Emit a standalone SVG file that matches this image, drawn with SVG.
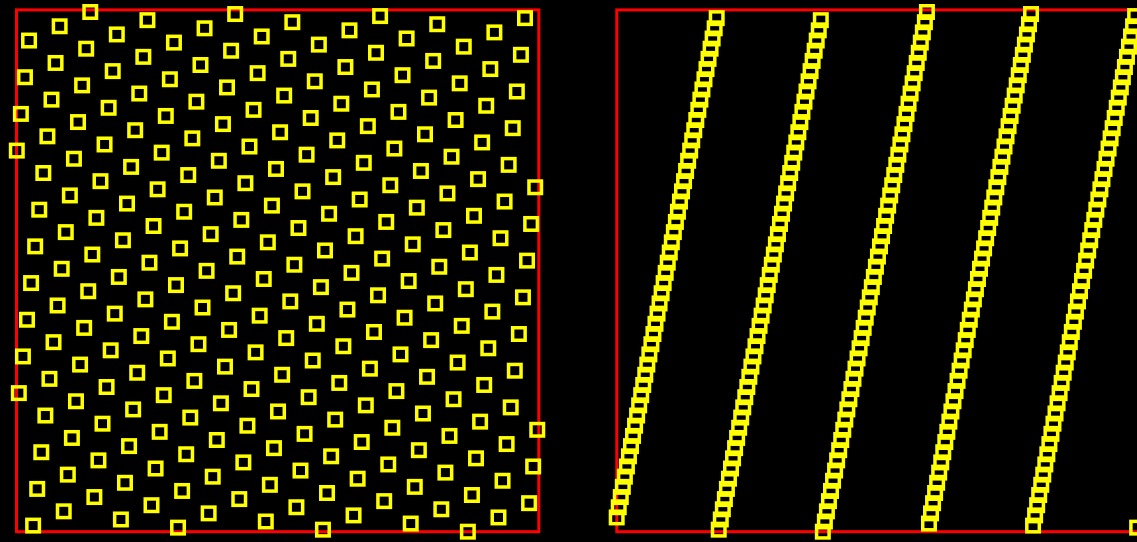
<svg xmlns="http://www.w3.org/2000/svg" width="1137" height="542" viewBox="0 0 1137 542">
<style>
.frame{fill:none;stroke:#ff0000;stroke-width:3}
</style>
<defs>
<rect id="q" x="-3.062" y="-3.066" width="6.124" height="6.133" fill="none" stroke="#ffff00" stroke-width="1.715"/>
</defs>
<rect x="0" y="0" width="1137" height="542" fill="#000000"/>
<g id="panel-left">
<rect class="frame" x="16.5" y="9.9" width="522.3" height="521.8"/>
<g id="points-left" transform="translate(16.8,531.7) scale(2.041,-2.038)">
<use href="#q" x="0" y="187"/><use href="#q" x="1" y="68"/><use href="#q" x="2" y="205"/><use href="#q" x="3" y="86"/><use href="#q" x="4" y="223"/><use href="#q" x="5" y="104"/><use href="#q" x="6" y="241"/><use href="#q" x="7" y="122"/><use href="#q" x="8" y="3"/><use href="#q" x="9" y="140"/>
<use href="#q" x="10" y="21"/><use href="#q" x="11" y="158"/><use href="#q" x="12" y="39"/><use href="#q" x="13" y="176"/><use href="#q" x="14" y="57"/><use href="#q" x="15" y="194"/><use href="#q" x="16" y="75"/><use href="#q" x="17" y="212"/><use href="#q" x="18" y="93"/><use href="#q" x="19" y="230"/>
<use href="#q" x="20" y="111"/><use href="#q" x="21" y="248"/><use href="#q" x="22" y="129"/><use href="#q" x="23" y="10"/><use href="#q" x="24" y="147"/><use href="#q" x="25" y="28"/><use href="#q" x="26" y="165"/><use href="#q" x="27" y="46"/><use href="#q" x="28" y="183"/><use href="#q" x="29" y="64"/>
<use href="#q" x="30" y="201"/><use href="#q" x="31" y="82"/><use href="#q" x="32" y="219"/><use href="#q" x="33" y="100"/><use href="#q" x="34" y="237"/><use href="#q" x="35" y="118"/><use href="#q" x="36" y="255"/><use href="#q" x="37" y="136"/><use href="#q" x="38" y="17"/><use href="#q" x="39" y="154"/>
<use href="#q" x="40" y="35"/><use href="#q" x="41" y="172"/><use href="#q" x="42" y="53"/><use href="#q" x="43" y="190"/><use href="#q" x="44" y="71"/><use href="#q" x="45" y="208"/><use href="#q" x="46" y="89"/><use href="#q" x="47" y="226"/><use href="#q" x="48" y="107"/><use href="#q" x="49" y="244"/>
<use href="#q" x="50" y="125"/><use href="#q" x="51" y="6"/><use href="#q" x="52" y="143"/><use href="#q" x="53" y="24"/><use href="#q" x="54" y="161"/><use href="#q" x="55" y="42"/><use href="#q" x="56" y="179"/><use href="#q" x="57" y="60"/><use href="#q" x="58" y="197"/><use href="#q" x="59" y="78"/>
<use href="#q" x="60" y="215"/><use href="#q" x="61" y="96"/><use href="#q" x="62" y="233"/><use href="#q" x="63" y="114"/><use href="#q" x="64" y="251"/><use href="#q" x="65" y="132"/><use href="#q" x="66" y="13"/><use href="#q" x="67" y="150"/><use href="#q" x="68" y="31"/><use href="#q" x="69" y="168"/>
<use href="#q" x="70" y="49"/><use href="#q" x="71" y="186"/><use href="#q" x="72" y="67"/><use href="#q" x="73" y="204"/><use href="#q" x="74" y="85"/><use href="#q" x="75" y="222"/><use href="#q" x="76" y="103"/><use href="#q" x="77" y="240"/><use href="#q" x="78" y="121"/><use href="#q" x="79" y="2"/>
<use href="#q" x="80" y="139"/><use href="#q" x="81" y="20"/><use href="#q" x="82" y="157"/><use href="#q" x="83" y="38"/><use href="#q" x="84" y="175"/><use href="#q" x="85" y="56"/><use href="#q" x="86" y="193"/><use href="#q" x="87" y="74"/><use href="#q" x="88" y="211"/><use href="#q" x="89" y="92"/>
<use href="#q" x="90" y="229"/><use href="#q" x="91" y="110"/><use href="#q" x="92" y="247"/><use href="#q" x="93" y="128"/><use href="#q" x="94" y="9"/><use href="#q" x="95" y="146"/><use href="#q" x="96" y="27"/><use href="#q" x="97" y="164"/><use href="#q" x="98" y="45"/><use href="#q" x="99" y="182"/>
<use href="#q" x="100" y="63"/><use href="#q" x="101" y="200"/><use href="#q" x="102" y="81"/><use href="#q" x="103" y="218"/><use href="#q" x="104" y="99"/><use href="#q" x="105" y="236"/><use href="#q" x="106" y="117"/><use href="#q" x="107" y="254"/><use href="#q" x="108" y="135"/><use href="#q" x="109" y="16"/>
<use href="#q" x="110" y="153"/><use href="#q" x="111" y="34"/><use href="#q" x="112" y="171"/><use href="#q" x="113" y="52"/><use href="#q" x="114" y="189"/><use href="#q" x="115" y="70"/><use href="#q" x="116" y="207"/><use href="#q" x="117" y="88"/><use href="#q" x="118" y="225"/><use href="#q" x="119" y="106"/>
<use href="#q" x="120" y="243"/><use href="#q" x="121" y="124"/><use href="#q" x="122" y="5"/><use href="#q" x="123" y="142"/><use href="#q" x="124" y="23"/><use href="#q" x="125" y="160"/><use href="#q" x="126" y="41"/><use href="#q" x="127" y="178"/><use href="#q" x="128" y="59"/><use href="#q" x="129" y="196"/>
<use href="#q" x="130" y="77"/><use href="#q" x="131" y="214"/><use href="#q" x="132" y="95"/><use href="#q" x="133" y="232"/><use href="#q" x="134" y="113"/><use href="#q" x="135" y="250"/><use href="#q" x="136" y="131"/><use href="#q" x="137" y="12"/><use href="#q" x="138" y="149"/><use href="#q" x="139" y="30"/>
<use href="#q" x="140" y="167"/><use href="#q" x="141" y="48"/><use href="#q" x="142" y="185"/><use href="#q" x="143" y="66"/><use href="#q" x="144" y="203"/><use href="#q" x="145" y="84"/><use href="#q" x="146" y="221"/><use href="#q" x="147" y="102"/><use href="#q" x="148" y="239"/><use href="#q" x="149" y="120"/>
<use href="#q" x="150" y="1"/><use href="#q" x="151" y="138"/><use href="#q" x="152" y="19"/><use href="#q" x="153" y="156"/><use href="#q" x="154" y="37"/><use href="#q" x="155" y="174"/><use href="#q" x="156" y="55"/><use href="#q" x="157" y="192"/><use href="#q" x="158" y="73"/><use href="#q" x="159" y="210"/>
<use href="#q" x="160" y="91"/><use href="#q" x="161" y="228"/><use href="#q" x="162" y="109"/><use href="#q" x="163" y="246"/><use href="#q" x="164" y="127"/><use href="#q" x="165" y="8"/><use href="#q" x="166" y="145"/><use href="#q" x="167" y="26"/><use href="#q" x="168" y="163"/><use href="#q" x="169" y="44"/>
<use href="#q" x="170" y="181"/><use href="#q" x="171" y="62"/><use href="#q" x="172" y="199"/><use href="#q" x="173" y="80"/><use href="#q" x="174" y="217"/><use href="#q" x="175" y="98"/><use href="#q" x="176" y="235"/><use href="#q" x="177" y="116"/><use href="#q" x="178" y="253"/><use href="#q" x="179" y="134"/>
<use href="#q" x="180" y="15"/><use href="#q" x="181" y="152"/><use href="#q" x="182" y="33"/><use href="#q" x="183" y="170"/><use href="#q" x="184" y="51"/><use href="#q" x="185" y="188"/><use href="#q" x="186" y="69"/><use href="#q" x="187" y="206"/><use href="#q" x="188" y="87"/><use href="#q" x="189" y="224"/>
<use href="#q" x="190" y="105"/><use href="#q" x="191" y="242"/><use href="#q" x="192" y="123"/><use href="#q" x="193" y="4"/><use href="#q" x="194" y="141"/><use href="#q" x="195" y="22"/><use href="#q" x="196" y="159"/><use href="#q" x="197" y="40"/><use href="#q" x="198" y="177"/><use href="#q" x="199" y="58"/>
<use href="#q" x="200" y="195"/><use href="#q" x="201" y="76"/><use href="#q" x="202" y="213"/><use href="#q" x="203" y="94"/><use href="#q" x="204" y="231"/><use href="#q" x="205" y="112"/><use href="#q" x="206" y="249"/><use href="#q" x="207" y="130"/><use href="#q" x="208" y="11"/><use href="#q" x="209" y="148"/>
<use href="#q" x="210" y="29"/><use href="#q" x="211" y="166"/><use href="#q" x="212" y="47"/><use href="#q" x="213" y="184"/><use href="#q" x="214" y="65"/><use href="#q" x="215" y="202"/><use href="#q" x="216" y="83"/><use href="#q" x="217" y="220"/><use href="#q" x="218" y="101"/><use href="#q" x="219" y="238"/>
<use href="#q" x="220" y="119"/><use href="#q" x="221" y="0"/><use href="#q" x="222" y="137"/><use href="#q" x="223" y="18"/><use href="#q" x="224" y="155"/><use href="#q" x="225" y="36"/><use href="#q" x="226" y="173"/><use href="#q" x="227" y="54"/><use href="#q" x="228" y="191"/><use href="#q" x="229" y="72"/>
<use href="#q" x="230" y="209"/><use href="#q" x="231" y="90"/><use href="#q" x="232" y="227"/><use href="#q" x="233" y="108"/><use href="#q" x="234" y="245"/><use href="#q" x="235" y="126"/><use href="#q" x="236" y="7"/><use href="#q" x="237" y="144"/><use href="#q" x="238" y="25"/><use href="#q" x="239" y="162"/>
<use href="#q" x="240" y="43"/><use href="#q" x="241" y="180"/><use href="#q" x="242" y="61"/><use href="#q" x="243" y="198"/><use href="#q" x="244" y="79"/><use href="#q" x="245" y="216"/><use href="#q" x="246" y="97"/><use href="#q" x="247" y="234"/><use href="#q" x="248" y="115"/><use href="#q" x="249" y="252"/>
<use href="#q" x="250" y="133"/><use href="#q" x="251" y="14"/><use href="#q" x="252" y="151"/><use href="#q" x="253" y="32"/><use href="#q" x="254" y="169"/><use href="#q" x="255" y="50"/>
</g>
</g>
<g id="panel-right">
<rect class="frame" x="616.8" y="9.9" width="522.3" height="521.8"/>
<g id="points-right" transform="translate(616.7,531.7) scale(2.041,-2.038)">
<use href="#q" x="0" y="7"/><use href="#q" x="1" y="12"/><use href="#q" x="2" y="17"/><use href="#q" x="3" y="22"/><use href="#q" x="4" y="27"/><use href="#q" x="5" y="32"/><use href="#q" x="6" y="37"/><use href="#q" x="7" y="42"/><use href="#q" x="8" y="47"/><use href="#q" x="9" y="52"/>
<use href="#q" x="10" y="57"/><use href="#q" x="11" y="62"/><use href="#q" x="12" y="67"/><use href="#q" x="13" y="72"/><use href="#q" x="14" y="77"/><use href="#q" x="15" y="82"/><use href="#q" x="16" y="87"/><use href="#q" x="17" y="92"/><use href="#q" x="18" y="97"/><use href="#q" x="19" y="102"/>
<use href="#q" x="20" y="107"/><use href="#q" x="21" y="112"/><use href="#q" x="22" y="117"/><use href="#q" x="23" y="122"/><use href="#q" x="24" y="127"/><use href="#q" x="25" y="132"/><use href="#q" x="26" y="137"/><use href="#q" x="27" y="142"/><use href="#q" x="28" y="147"/><use href="#q" x="29" y="152"/>
<use href="#q" x="30" y="157"/><use href="#q" x="31" y="162"/><use href="#q" x="32" y="167"/><use href="#q" x="33" y="172"/><use href="#q" x="34" y="177"/><use href="#q" x="35" y="182"/><use href="#q" x="36" y="187"/><use href="#q" x="37" y="192"/><use href="#q" x="38" y="197"/><use href="#q" x="39" y="202"/>
<use href="#q" x="40" y="207"/><use href="#q" x="41" y="212"/><use href="#q" x="42" y="217"/><use href="#q" x="43" y="222"/><use href="#q" x="44" y="227"/><use href="#q" x="45" y="232"/><use href="#q" x="46" y="237"/><use href="#q" x="47" y="242"/><use href="#q" x="48" y="247"/><use href="#q" x="49" y="252"/>
<use href="#q" x="50" y="1"/><use href="#q" x="51" y="6"/><use href="#q" x="52" y="11"/><use href="#q" x="53" y="16"/><use href="#q" x="54" y="21"/><use href="#q" x="55" y="26"/><use href="#q" x="56" y="31"/><use href="#q" x="57" y="36"/><use href="#q" x="58" y="41"/><use href="#q" x="59" y="46"/>
<use href="#q" x="60" y="51"/><use href="#q" x="61" y="56"/><use href="#q" x="62" y="61"/><use href="#q" x="63" y="66"/><use href="#q" x="64" y="71"/><use href="#q" x="65" y="76"/><use href="#q" x="66" y="81"/><use href="#q" x="67" y="86"/><use href="#q" x="68" y="91"/><use href="#q" x="69" y="96"/>
<use href="#q" x="70" y="101"/><use href="#q" x="71" y="106"/><use href="#q" x="72" y="111"/><use href="#q" x="73" y="116"/><use href="#q" x="74" y="121"/><use href="#q" x="75" y="126"/><use href="#q" x="76" y="131"/><use href="#q" x="77" y="136"/><use href="#q" x="78" y="141"/><use href="#q" x="79" y="146"/>
<use href="#q" x="80" y="151"/><use href="#q" x="81" y="156"/><use href="#q" x="82" y="161"/><use href="#q" x="83" y="166"/><use href="#q" x="84" y="171"/><use href="#q" x="85" y="176"/><use href="#q" x="86" y="181"/><use href="#q" x="87" y="186"/><use href="#q" x="88" y="191"/><use href="#q" x="89" y="196"/>
<use href="#q" x="90" y="201"/><use href="#q" x="91" y="206"/><use href="#q" x="92" y="211"/><use href="#q" x="93" y="216"/><use href="#q" x="94" y="221"/><use href="#q" x="95" y="226"/><use href="#q" x="96" y="231"/><use href="#q" x="97" y="236"/><use href="#q" x="98" y="241"/><use href="#q" x="99" y="246"/>
<use href="#q" x="100" y="251"/><use href="#q" x="101" y="0"/><use href="#q" x="102" y="5"/><use href="#q" x="103" y="10"/><use href="#q" x="104" y="15"/><use href="#q" x="105" y="20"/><use href="#q" x="106" y="25"/><use href="#q" x="107" y="30"/><use href="#q" x="108" y="35"/><use href="#q" x="109" y="40"/>
<use href="#q" x="110" y="45"/><use href="#q" x="111" y="50"/><use href="#q" x="112" y="55"/><use href="#q" x="113" y="60"/><use href="#q" x="114" y="65"/><use href="#q" x="115" y="70"/><use href="#q" x="116" y="75"/><use href="#q" x="117" y="80"/><use href="#q" x="118" y="85"/><use href="#q" x="119" y="90"/>
<use href="#q" x="120" y="95"/><use href="#q" x="121" y="100"/><use href="#q" x="122" y="105"/><use href="#q" x="123" y="110"/><use href="#q" x="124" y="115"/><use href="#q" x="125" y="120"/><use href="#q" x="126" y="125"/><use href="#q" x="127" y="130"/><use href="#q" x="128" y="135"/><use href="#q" x="129" y="140"/>
<use href="#q" x="130" y="145"/><use href="#q" x="131" y="150"/><use href="#q" x="132" y="155"/><use href="#q" x="133" y="160"/><use href="#q" x="134" y="165"/><use href="#q" x="135" y="170"/><use href="#q" x="136" y="175"/><use href="#q" x="137" y="180"/><use href="#q" x="138" y="185"/><use href="#q" x="139" y="190"/>
<use href="#q" x="140" y="195"/><use href="#q" x="141" y="200"/><use href="#q" x="142" y="205"/><use href="#q" x="143" y="210"/><use href="#q" x="144" y="215"/><use href="#q" x="145" y="220"/><use href="#q" x="146" y="225"/><use href="#q" x="147" y="230"/><use href="#q" x="148" y="235"/><use href="#q" x="149" y="240"/>
<use href="#q" x="150" y="245"/><use href="#q" x="151" y="250"/><use href="#q" x="152" y="255"/><use href="#q" x="153" y="4"/><use href="#q" x="154" y="9"/><use href="#q" x="155" y="14"/><use href="#q" x="156" y="19"/><use href="#q" x="157" y="24"/><use href="#q" x="158" y="29"/><use href="#q" x="159" y="34"/>
<use href="#q" x="160" y="39"/><use href="#q" x="161" y="44"/><use href="#q" x="162" y="49"/><use href="#q" x="163" y="54"/><use href="#q" x="164" y="59"/><use href="#q" x="165" y="64"/><use href="#q" x="166" y="69"/><use href="#q" x="167" y="74"/><use href="#q" x="168" y="79"/><use href="#q" x="169" y="84"/>
<use href="#q" x="170" y="89"/><use href="#q" x="171" y="94"/><use href="#q" x="172" y="99"/><use href="#q" x="173" y="104"/><use href="#q" x="174" y="109"/><use href="#q" x="175" y="114"/><use href="#q" x="176" y="119"/><use href="#q" x="177" y="124"/><use href="#q" x="178" y="129"/><use href="#q" x="179" y="134"/>
<use href="#q" x="180" y="139"/><use href="#q" x="181" y="144"/><use href="#q" x="182" y="149"/><use href="#q" x="183" y="154"/><use href="#q" x="184" y="159"/><use href="#q" x="185" y="164"/><use href="#q" x="186" y="169"/><use href="#q" x="187" y="174"/><use href="#q" x="188" y="179"/><use href="#q" x="189" y="184"/>
<use href="#q" x="190" y="189"/><use href="#q" x="191" y="194"/><use href="#q" x="192" y="199"/><use href="#q" x="193" y="204"/><use href="#q" x="194" y="209"/><use href="#q" x="195" y="214"/><use href="#q" x="196" y="219"/><use href="#q" x="197" y="224"/><use href="#q" x="198" y="229"/><use href="#q" x="199" y="234"/>
<use href="#q" x="200" y="239"/><use href="#q" x="201" y="244"/><use href="#q" x="202" y="249"/><use href="#q" x="203" y="254"/><use href="#q" x="204" y="3"/><use href="#q" x="205" y="8"/><use href="#q" x="206" y="13"/><use href="#q" x="207" y="18"/><use href="#q" x="208" y="23"/><use href="#q" x="209" y="28"/>
<use href="#q" x="210" y="33"/><use href="#q" x="211" y="38"/><use href="#q" x="212" y="43"/><use href="#q" x="213" y="48"/><use href="#q" x="214" y="53"/><use href="#q" x="215" y="58"/><use href="#q" x="216" y="63"/><use href="#q" x="217" y="68"/><use href="#q" x="218" y="73"/><use href="#q" x="219" y="78"/>
<use href="#q" x="220" y="83"/><use href="#q" x="221" y="88"/><use href="#q" x="222" y="93"/><use href="#q" x="223" y="98"/><use href="#q" x="224" y="103"/><use href="#q" x="225" y="108"/><use href="#q" x="226" y="113"/><use href="#q" x="227" y="118"/><use href="#q" x="228" y="123"/><use href="#q" x="229" y="128"/>
<use href="#q" x="230" y="133"/><use href="#q" x="231" y="138"/><use href="#q" x="232" y="143"/><use href="#q" x="233" y="148"/><use href="#q" x="234" y="153"/><use href="#q" x="235" y="158"/><use href="#q" x="236" y="163"/><use href="#q" x="237" y="168"/><use href="#q" x="238" y="173"/><use href="#q" x="239" y="178"/>
<use href="#q" x="240" y="183"/><use href="#q" x="241" y="188"/><use href="#q" x="242" y="193"/><use href="#q" x="243" y="198"/><use href="#q" x="244" y="203"/><use href="#q" x="245" y="208"/><use href="#q" x="246" y="213"/><use href="#q" x="247" y="218"/><use href="#q" x="248" y="223"/><use href="#q" x="249" y="228"/>
<use href="#q" x="250" y="233"/><use href="#q" x="251" y="238"/><use href="#q" x="252" y="243"/><use href="#q" x="253" y="248"/><use href="#q" x="254" y="253"/><use href="#q" x="255" y="2"/>
</g>
</g>
</svg>
